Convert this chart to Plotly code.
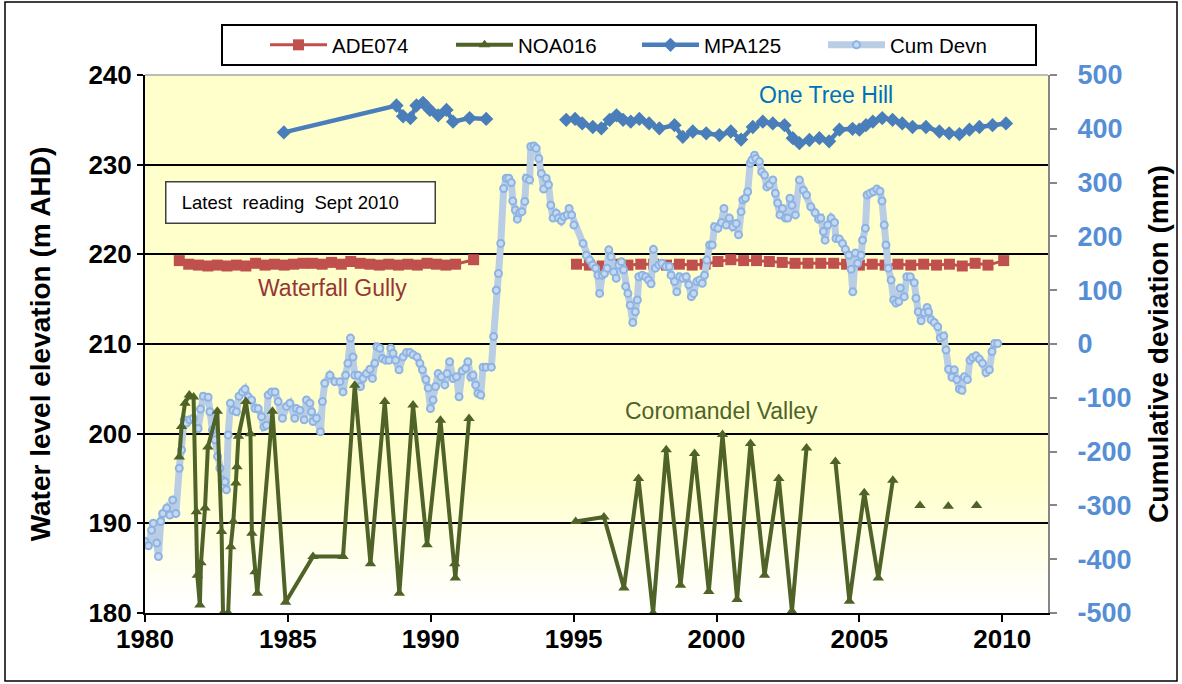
import plotly.graph_objects as go

# ---------------- DATA ----------------
# ADE074 - Waterfall Gully (m AHD)
ade_years = [1981.2, 1981.53, 1981.87, 1982.2, 1982.53, 1982.87, 1983.2, 1983.53, 1983.87,
             1984.2, 1984.53, 1984.87, 1985.2, 1985.53, 1985.87, 1986.2, 1986.53, 1986.87,
             1987.2, 1987.53, 1987.87, 1988.2, 1988.53, 1988.87, 1989.2, 1989.53, 1989.87,
             1990.2, 1990.53, 1990.87, 1991.5, None,
             1995.1, 1995.55, 1996.0, 1996.45, 1996.9, 1997.35, 1997.8, 1998.25, 1998.7,
             1999.15, 1999.6, 2000.05, 2000.5, 2000.95, 2001.4, 2001.85, 2002.3, 2002.75,
             2003.2, 2003.65, 2004.1, 2004.55, 2005.0, 2005.45, 2005.9, 2006.35, 2006.8,
             2007.25, 2007.7, 2008.15, 2008.6, 2009.05, 2009.5, 2010.05]
ade_level = [219.3, 218.9, 218.8, 218.7, 218.8, 218.7, 218.8, 218.7, 219.0,
             218.8, 218.9, 218.8, 218.9, 219.0, 219.0, 218.9, 219.1, 218.9,
             219.2, 219.0, 218.9, 218.8, 218.9, 218.8, 218.9, 218.8, 219.0,
             218.9, 218.8, 218.9, 219.4, None,
             218.9, 218.8, 218.7, 218.9, 218.8, 218.9, 218.9, 218.8, 218.9,
             218.8, 218.9, 219.2, 219.4, 219.3, 219.3, 219.2, 219.1, 219.0,
             219.0, 219.0, 219.0, 218.9, 218.8, 218.9, 218.8, 218.9, 218.8,
             218.9, 218.8, 218.9, 218.7, 219.0, 218.8, 219.3]

# NOA016 - Coromandel Valley (m AHD)
noa_years = [1981.2, 1981.28, 1981.4, 1981.55, 1981.7, 1981.8, 1981.83, 1981.92, 1981.96,
             1982.1, 1982.2, 1982.53, 1982.68, 1982.73, 1982.91, 1983.0, 1983.09, 1983.18,
             1983.22, 1983.27, 1983.53, 1983.69, 1983.74, 1983.85, 1983.93, 1984.46, 1984.92,
             1985.88, 1986.93, 1987.34, 1987.89, 1988.39, 1988.9, 1989.38, 1989.87, 1990.34,
             1990.84, 1990.86, 1991.34, None,
             1995.07, 1996.06, 1996.76, 1997.27, 1997.78, 1998.24, 1998.74, 1999.23, 1999.73,
             2000.21, 2000.72, 2001.19, 2001.68, 2002.18, 2002.64, 2003.15, None,
             2004.16, 2004.65, 2005.17, 2005.66, 2006.17, None,
             2007.12, None, 2008.11, None, 2009.1]
noa_level = [197.4, 200.8, 203.4, 204.3, 204.1, 191.3, 184.2, 180.9, 185.6,
             191.7, 198.5, 202.5, 189.1, 180.0, 180.0, 187.4, 190.2, 194.5,
             196.3, 199.7, 203.6, 200.0, 188.9, 184.6, 182.2, 202.5, 181.2,
             186.3, 186.3, 205.4, 185.5, 203.6, 182.2, 203.2, 187.6, 201.5,
             185.5, 183.9, 201.7, None,
             190.2, 190.7, 182.8, 195.0, 180.0, 198.2, 183.1, 197.8, 182.4,
             199.9, 181.5, 198.9, 184.2, 195.0, 180.2, 198.4, None,
             196.9, 181.3, 193.4, 183.9, 194.8, None,
             192.0, None, 191.9, None, 192.0]

# MPA125 - One Tree Hill (m AHD)
mpa_years = [1984.86, 1988.8, 1989.03, 1989.29, 1989.5, 1989.73, 1989.97, 1990.26, 1990.55,
             1990.78, 1991.36, 1991.94, None,
             1994.74, 1995.05, 1995.3, 1995.67, 1995.97, 1996.26, 1996.5, 1996.73, 1997.0,
             1997.3, 1997.64, 1998.0, 1998.53, 1998.82, 1999.17, 1999.64, 2000.1, 2000.5,
             2000.86, 2001.27, 2001.62, 2001.97, 2002.38, 2002.67, 2002.9, 2003.25, 2003.6,
             2003.94, 2004.3, 2004.76, 2005.0, 2005.23, 2005.47, 2005.8, 2006.16, 2006.5,
             2006.86, 2007.33, 2007.8, 2008.14, 2008.5, 2008.85, 2009.2, 2009.66, 2010.13]
mpa_level = [233.6, 236.6, 235.4, 235.2, 236.6, 236.9, 236.1, 235.5, 236.1,
             234.8, 235.2, 235.1, None,
             235.0, 235.1, 234.6, 234.2, 234.05, 235.0, 235.5, 235.0, 234.8,
             235.1, 234.6, 234.05, 234.4, 233.1, 233.7, 233.5, 233.3, 233.7,
             232.8, 234.2, 234.8, 234.6, 234.4, 232.95, 232.4, 232.75, 232.95,
             232.6, 233.9, 234.0, 233.9, 234.4, 234.8, 235.2, 235.0, 234.6,
             234.2, 234.2, 233.7, 233.5, 233.4, 233.9, 234.2, 234.4, 234.6]

# Cumulative deviation of rainfall (mm)
cum_years = [1980.0, 1980.12, 1980.23, 1980.29, 1980.41, 1980.47, 1980.55, 1980.62, 1980.76,
             1980.87, 1980.97, 1981.08, 1981.2, 1981.28, 1981.37, 1981.45, 1981.57, 1981.69,
             1981.86, 1981.94, 1982.04, 1982.21, 1982.27, 1982.36, 1982.45, 1982.54, 1982.62,
             1982.71, 1982.8, 1982.85, 1982.91, 1982.99, 1983.08, 1983.2, 1983.29, 1983.41,
             1983.5, 1983.61, 1983.73, 1983.85, 1983.96, 1984.08, 1984.16, 1984.25, 1984.31,
             1984.43, 1984.55, 1984.66, 1984.81, 1984.95, 1985.07, 1985.24, 1985.3, 1985.42,
             1985.57, 1985.65, 1985.77, 1985.83, 1985.88, 1986.0, 1986.14, 1986.21, 1986.29,
             1986.47, 1986.64, 1986.82, 1986.93, 1987.02, 1987.1, 1987.19, 1987.28, 1987.34,
             1987.46, 1987.54, 1987.63, 1987.75, 1987.87, 1987.96, 1988.04, 1988.12, 1988.22,
             1988.31, 1988.42, 1988.54, 1988.6, 1988.68, 1988.77, 1988.89, 1989.03, 1989.15,
             1989.27, 1989.38, 1989.52, 1989.62, 1989.71, 1989.83, 1989.91, 1989.99, 1990.08,
             1990.17, 1990.26, 1990.37, 1990.49, 1990.57, 1990.66, 1990.78, 1990.9, 1990.99,
             1991.1, 1991.22, 1991.3, 1991.4, 1991.48, 1991.57, 1991.65, 1991.75, 1991.83,
             1991.94, 1992.12, 1992.2, 1992.29, 1992.37, 1992.45, 1992.55, 1992.64, 1992.73,
             1992.82, 1992.87, 1992.96, 1993.03, 1993.11, 1993.19, 1993.29, 1993.34, 1993.46,
             1993.5, 1993.61, 1993.69, 1993.78, 1993.87, 1993.95, 1994.04, 1994.12, 1994.2,
             1994.28, 1994.39, 1994.47, 1994.57, 1994.66, 1994.78, 1994.84, 1994.93, 1995.01,
             1995.33, 1995.44, 1995.56, 1995.67, 1995.77, 1995.85, 1995.91, 1996.0, 1996.08,
             1996.17, 1996.23, 1996.31, 1996.4, 1996.49, 1996.58, 1996.67, 1996.75, 1996.82,
             1996.9, 1996.98, 1997.07, 1997.16, 1997.23, 1997.28, 1997.4, 1997.52, 1997.62,
             1997.71, 1997.79, 1997.86, 1997.98, 1998.09, 1998.23, 1998.35, 1998.41, 1998.53,
             1998.61, 1998.71, 1998.82, 1998.94, 1999.03, 1999.12, 1999.2, 1999.31, 1999.41,
             1999.5, 1999.58, 1999.66, 1999.76, 1999.85, 1999.93, 2000.05, 2000.17, 2000.26,
             2000.34, 2000.45, 2000.57, 2000.69, 2000.77, 2000.86, 2000.92, 2001.01, 2001.09,
             2001.18, 2001.24, 2001.33, 2001.38, 2001.5, 2001.58, 2001.68, 2001.76, 2001.85,
             2001.97, 2002.06, 2002.14, 2002.22, 2002.31, 2002.41, 2002.49, 2002.57, 2002.64,
             2002.76, 2002.9, 2003.04, 2003.15, 2003.3, 2003.45, 2003.57, 2003.65, 2003.74,
             2003.8, 2003.89, 2004.01, 2004.13, 2004.18, 2004.3, 2004.41, 2004.51, 2004.63,
             2004.71, 2004.77, 2004.86, 2004.94, 2005.06, 2005.11, 2005.21, 2005.27, 2005.37,
             2005.49, 2005.61, 2005.72, 2005.79, 2005.87, 2005.93, 2006.01, 2006.11, 2006.2,
             2006.28, 2006.38, 2006.43, 2006.57, 2006.66, 2006.78, 2006.92, 2006.98, 2007.06,
             2007.16, 2007.27, 2007.37, 2007.42, 2007.51, 2007.62, 2007.74, 2007.83, 2007.95,
             2008.03, 2008.12, 2008.24, 2008.32, 2008.41, 2008.5, 2008.59, 2008.67, 2008.78,
             2008.87, 2008.96, 2009.08, 2009.2, 2009.31, 2009.43, 2009.55, 2009.64, 2009.73,
             2009.84]
cum_devn = [-367, -375, -346, -333, -370, -395, -330, -315, -305,
            -318, -290, -315, -231, -197, -141, -147, -141, -138,
            -157, -121, -97, -99, -126, -160, -178, -209, -231,
            -253, -256, -271, -169, -110, -123, -126, -97, -89,
            -84, -98, -104, -120, -120, -135, -154, -151, -95,
            -89, -89, -107, -138, -116, -110, -138, -120, -123,
            -141, -104, -110, -126, -144, -138, -163, -107, -73,
            -58, -70, -70, -89, -58, -36, 11, -24, -58,
            -58, -79, -64, -55, -47, -64, -36, -5, -8,
            -27, -30, -30, -8, -17, -30, -48, -24, -16,
            -16, -20, -24, -36, -48, -66, -82, -120, -104,
            -79, -55, -61, -76, -55, -33, -64, -61, -98,
            -50, -45, -33, -61, -58, -76, -92, -95, -43,
            -43, -43, 14, 100, 131, 187, 289, 308, 308,
            300, 266, 249, 232, 244, 246, 265, 308, 305,
            367, 368, 364, 345, 317, 288, 308, 296, 258,
            234, 243, 234, 229, 237, 240, 252, 240, 221,
            187, 165, 156, 147, 141, 128, 94, 128, 131,
            141, 175, 162, 134, 122, 147, 153, 138, 107,
            94, 72, 40, 60, 82, 125, 128, 125, 119,
            112, 176, 141, 147, 150, 144, 144, 128, 116,
            97, 125, 122, 125, 110, 88, 94, 116, 119,
            113, 128, 156, 184, 184, 218, 215, 226, 252,
            221, 234, 218, 224, 203, 246, 268, 271, 283,
            336, 342, 351, 345, 339, 320, 314, 292, 296,
            305, 280, 262, 240, 252, 234, 234, 271, 258,
            240, 305, 286, 277, 255, 244, 232, 234, 209,
            193, 221, 234, 226, 196, 195, 187, 176, 165,
            139, 97, 169, 150, 165, 193, 215, 277, 280,
            283, 288, 284, 266, 221, 184, 141, 119, 82,
            76, 79, 104, 88, 125, 125, 114, 85, 60,
            43, 58, 68, 60, 45, 40, 32, 11, 15,
            -11, -47, -62, -48, -66, -84, -86, -61, -66,
            -30, -25, -22, -28, -36, -53, -48, -14, 1,
            1]

x_ticks = [1980, 1985, 1990, 1995, 2000, 2005, 2010]
left_ticks = [180, 190, 200, 210, 220, 230, 240]
right_ticks = [-500, -400, -300, -200, -100, 0, 100, 200, 300, 400, 500]
right_tick_text = ["-500", "-400", "-300", "-200", "-100", "0", "100", "200", "300", "400", "500"]

# ---------------- STYLE ----------------
FONT = "Liberation Sans, Arial, sans-serif"
W, H = 1182, 684
L, R, T, B = 145, 134, 75, 71
plot_w = W - L - R
plot_h = H - T - B


def px_x(px):
    return (px - L) / plot_w


def px_y(py):
    return (H - B - py) / plot_h


fig = go.Figure()

fig.add_trace(go.Scatter(
    x=ade_years, y=ade_level, name="ADE074", mode="lines+markers",
    line=dict(color="#C0504D", width=3),
    marker=dict(symbol="square", size=11, color="#C0504D"),
    legendrank=1,
))
fig.add_trace(go.Scatter(
    x=mpa_years, y=mpa_level, name="MPA125", mode="lines+markers",
    line=dict(color="#4A7EBB", width=4.5),
    marker=dict(symbol="diamond", size=11, color="#4A7EBB"),
    legendrank=3,
))
fig.add_trace(go.Scatter(
    x=cum_years, y=cum_devn, name="Cum Devn", mode="lines+markers", yaxis="y2",
    line=dict(color="#B9CDE5", width=7),
    marker=dict(symbol="circle", size=7, color="#C6D9F1",
                line=dict(color="#8DB3E2", width=2)),
    legendrank=4,
))
# NOA016 on an overlaying axis with the same scale as the left axis so it draws on top
fig.add_trace(go.Scatter(
    x=noa_years, y=noa_level, name="NOA016", mode="lines+markers", yaxis="y3",
    line=dict(color="#4F6228", width=4),
    marker=dict(symbol="triangle-up", size=10, color="#4F6228"),
    legendrank=2,
))

# gradient at the bottom of the plot area (yellow -> white)
shapes = []
fade_top_px = 480
fade_bot_px = 605
n = 30
for i in range(n):
    y_top = fade_top_px + (613 - fade_top_px) * i / n
    y_bot = fade_top_px + (613 - fade_top_px) * (i + 1) / n
    ymid = (y_top + y_bot) / 2
    f = min(1.0, max(0.0, (ymid - fade_top_px) / (fade_bot_px - fade_top_px)))
    b = int(round(204 + (255 - 204) * f))
    shapes.append(dict(
        type="rect", xref="paper", yref="paper", layer="below",
        x0=0, x1=1, y0=px_y(y_bot), y1=px_y(y_top) + 0.001,
        fillcolor=f"rgb(255,255,{b})", line=dict(width=0),
    ))
# light top border of plot area
shapes.append(dict(type="line", xref="paper", yref="paper", x0=0, x1=1, y0=1, y1=1,
                   line=dict(color="#A6A6A6", width=1.5)))
# legend box
shapes.append(dict(type="rect", xref="paper", yref="paper",
                   x0=px_x(222), x1=px_x(1036), y0=px_y(65), y1=px_y(25),
                   line=dict(color="black", width=2), fillcolor="white"))
# outer chart border
shapes.append(dict(type="rect", xref="paper", yref="paper",
                   x0=px_x(5), x1=px_x(1177), y0=px_y(681), y1=px_y(2),
                   line=dict(color="black", width=1.5), fillcolor="rgba(0,0,0,0)"))

annotations = [
    dict(x=2003.84, y=237.8, xref="x", yref="y", text="One Tree Hill", showarrow=False,
         font=dict(family=FONT, size=23, color="#0070C0")),
    dict(x=1986.57, y=216.25, xref="x", yref="y", text="Waterfall Gully", showarrow=False,
         font=dict(family=FONT, size=23, color="#953735")),
    dict(x=2000.16, y=202.5, xref="x", yref="y", text="Coromandel Valley", showarrow=False,
         font=dict(family=FONT, size=23, color="#4F6228")),
    dict(x=1985.43, y=225.8, xref="x", yref="y",
         text="\u00a0\u00a0Latest  reading  Sept 2010", showarrow=False,
         width=258, height=30, align="left", valign="middle", borderpad=5,
         bgcolor="white", bordercolor="#3F3F3F", borderwidth=1.5,
         font=dict(family=FONT, size=18.5, color="black")),
]

fig.update_layout(
    width=W, height=H,
    margin=dict(l=L, r=R, t=T, b=B, autoexpand=False),
    paper_bgcolor="white",
    plot_bgcolor="#FFFFCC",
    font=dict(family=FONT, color="black"),
    showlegend=True,
    legend=dict(
        orientation="h", x=px_x(265), xanchor="left", y=px_y(45), yanchor="middle",
        bgcolor="rgba(0,0,0,0)", borderwidth=0,
        font=dict(family=FONT, size=20.5, color="black"),
        itemwidth=57, entrywidth=114, entrywidthmode="pixels",
        traceorder="normal",
    ),
    xaxis=dict(
        range=[1980, 2011.6], tickmode="array", tickvals=x_ticks,
        ticktext=[str(v) for v in x_ticks],
        showgrid=False, zeroline=False,
        showline=True, linecolor="black", linewidth=2,
        ticks="outside", ticklen=7, tickwidth=2, tickcolor="black",
        ticklabelstandoff=-5,
        tickfont=dict(family=FONT, size=26, color="black", weight="bold"),
    ),
    yaxis=dict(
        range=[180, 240], tickmode="array", tickvals=left_ticks,
        showgrid=True, gridcolor="black", gridwidth=2, zeroline=False,
        showline=True, linecolor="black", linewidth=2,
        ticks="outside", ticklen=6, tickwidth=2, tickcolor="black",
        tickfont=dict(family=FONT, size=26, color="black", weight="bold"),
        title=dict(text="Water level elevation (m AHD)", standoff=30,
                   font=dict(family=FONT, size=28, color="black", weight="bold")),
    ),
    yaxis2=dict(
        range=[-500, 500], tickmode="array", tickvals=right_ticks, ticktext=right_tick_text,
        overlaying="y", side="right", anchor="x",
        showgrid=False, zeroline=False,
        showline=True, linecolor="#868686", linewidth=2,
        ticks="outside", ticklen=7, tickwidth=2, tickcolor="#868686",
        ticklabelstandoff=15,
        tickfont=dict(family=FONT, size=27, color="#558ED5", weight="bold"),
        title=dict(text="Cumulative deviation (mm)", standoff=18,
                   font=dict(family=FONT, size=28, color="black", weight="bold")),
    ),
    yaxis3=dict(
        range=[180, 240], overlaying="y", anchor="x", visible=False,
    ),
    shapes=shapes,
    annotations=annotations,
)

fig.write_html("out.html", config={"displayModeBar": False},
               post_script="document.body.style.margin='0';")
